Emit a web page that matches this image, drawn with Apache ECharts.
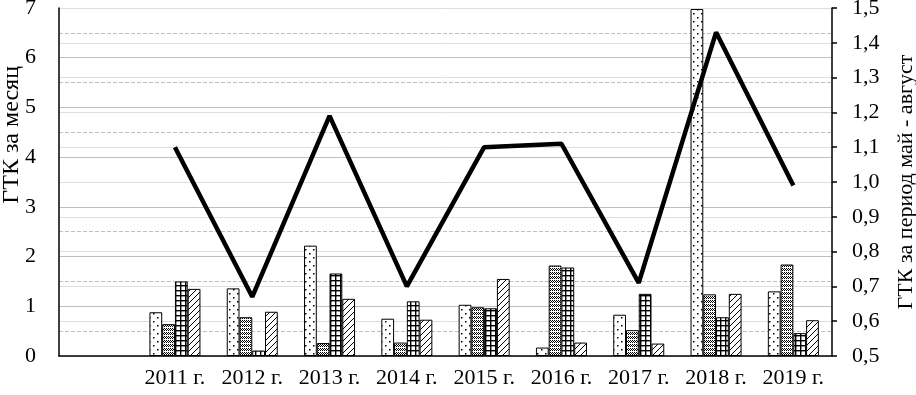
<!DOCTYPE html>
<html>
<head>
<meta charset="utf-8">
<script src="https://cdn.jsdelivr.net/npm/echarts@6/dist/echarts.min.js"></script>
<style>
  html, body { margin: 0; padding: 0; background: #fff; }
  #chart { width: 916px; height: 395px; }
</style>
</head>
<body>
<div id="chart"></div>
<script>
// categories (first one is an empty slot as in the original)
const years = ['', '2011 г.', '2012 г.', '2013 г.', '2014 г.', '2015 г.', '2016 г.', '2017 г.', '2018 г.', '2019 г.']

// monthly GTK (left axis)
const may = [null, 0.88, 1.36, 2.22, 0.75, 1.03, 0.17, 0.83, 6.98, 1.30]
const june = [null, 0.64, 0.78, 0.26, 0.27, 0.98, 1.82, 0.52, 1.24, 1.84]
const july = [null, 1.50, 0.11, 1.66, 1.10, 0.96, 1.78, 1.25, 0.78, 0.46]
const august = [null, 1.35, 0.89, 1.15, 0.73, 1.55, 0.27, 0.25, 1.25, 0.72]

// GTK for May - August (right axis)
const season = [null, 1.10, 0.67, 1.19, 0.70, 1.10, 1.11, 0.71, 1.43, 0.99]

const font = 'Liberation Serif'

function pattern (w, h, draw) {
  const c = document.createElement('canvas')
  c.width = w
  c.height = h
  const ctx = c.getContext('2d')
  ctx.fillStyle = '#fff'
  ctx.fillRect(0, 0, w, h)
  ctx.fillStyle = '#000'
  ctx.strokeStyle = '#000'
  draw(ctx)
  return { image: c, repeat: 'repeat' }
}

const dots = pattern(8, 8, ctx => {
  ctx.fillRect(1, 1, 1.5, 1.5)
  ctx.fillRect(5, 5, 1.5, 1.5)
})
const checker = pattern(4, 4, ctx => {
  [[0, 0], [2, 0], [1, 1], [3, 1], [0, 2], [2, 2]].forEach(p => ctx.fillRect(p[0], p[1], 1, 1))
})
const grid = pattern(5, 5, ctx => {
  ctx.fillRect(0, 0, 5, 1.4)
  ctx.fillRect(0, 0, 1.4, 5)
})
const hatch = pattern(6, 6, ctx => {
  ctx.lineWidth = 1
  ctx.beginPath()
  ctx.moveTo(0, 6); ctx.lineTo(6, 0)
  ctx.moveTo(-1, 1); ctx.lineTo(1, -1)
  ctx.moveTo(5, 7); ctx.lineTo(7, 5)
  ctx.stroke()
})

function barSeries (name, data, fill) {
  return {
    type: 'bar',
    name,
    data,
    barGap: '0%',
    barCategoryGap: '34%',
    itemStyle: { color: fill, borderColor: '#000', borderWidth: 1 }
  }
}

const option = {
  animation: false,
  textStyle: { fontFamily: font },
  grid: { left: 59, right: 84, top: 8, bottom: 39, outerBoundsMode: 'none' },
  xAxis: {
    type: 'category',
    data: years,
    axisLine: { lineStyle: { color: '#000', width: 1.5 } },
    axisTick: { show: false },
    axisLabel: { color: '#000', fontSize: 22, fontFamily: font, margin: 11, interval: 0 }
  },
  yAxis: [
    {
      type: 'value',
      min: 0,
      max: 7,
      interval: 1,
      axisLine: { show: true, lineStyle: { color: '#000', width: 1.5 } },
      axisTick: { show: false },
      axisLabel: { color: '#000', fontSize: 22, fontFamily: font, margin: 23 },
      splitLine: { lineStyle: { color: '#bfbfbf', width: 1.2 } },
      minorTick: { show: false, splitNumber: 2 },
      minorSplitLine: { show: true, lineStyle: { color: '#bfbfbf', type: [4, 2], width: 1 } }
    },
    {
      type: 'value',
      min: 0.5,
      max: 1.5,
      interval: 0.1,
      position: 'right',
      axisLine: { show: true, lineStyle: { color: '#000', width: 1.5 } },
      axisTick: { show: true, inside: false, length: 5, lineStyle: { color: '#000', width: 1.5 } },
      axisLabel: {
        color: '#000',
        fontSize: 22,
        fontFamily: font,
        margin: 20,
        formatter: v => v.toFixed(1).replace('.', ',')
      },
      name: 'ГТК за период май - август',
      nameLocation: 'middle',
      nameRotate: 90,
      nameGap: 63,
      nameTextStyle: { color: '#000', fontSize: 22, fontFamily: font }
    }
  ],
  graphic: [
    {
      type: 'text',
      left: 0,
      top: 66,
      rotation: Math.PI / 2,
      style: { text: 'ГТК за месяц', fontSize: 24, fontFamily: font, fill: '#000' }
    }
  ],
  series: [
    barSeries('май', may, dots),
    barSeries('июнь', june, checker),
    barSeries('июль', july, grid),
    barSeries('август', august, hatch),
    {
      type: 'line',
      name: 'май - август',
      yAxisIndex: 1,
      data: season,
      symbol: 'none',
      z: 5,
      lineStyle: { color: '#000', width: 4.5 }
    }
  ]
}

const chart = echarts.init(document.getElementById('chart'))
chart.setOption(option)
</script>
</body>
</html>
